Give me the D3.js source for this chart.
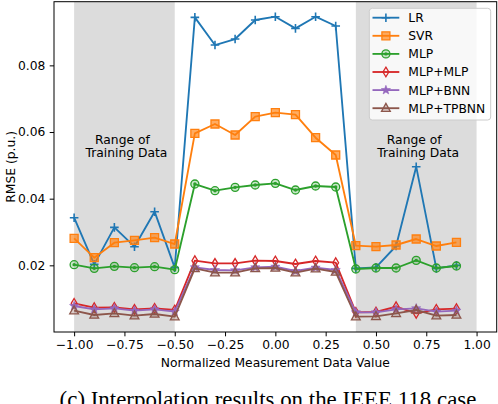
<!DOCTYPE html>
<html>
<head>
<meta charset="utf-8">
<script src="https://cdn.jsdelivr.net/npm/d3@7"></script>
<style>
  html, body { margin: 0; padding: 0; background: #fff; }
  svg { display: block; }
  text { font-family: "DejaVu Sans", sans-serif; }
  text.caption { font-family: "Liberation Serif", "DejaVu Serif", serif; }
</style>
</head>
<body>
<svg id="chart" width="498" height="404"></svg>
<script>
// ---------------- data ----------------
const xValues = [-1.0, -0.9, -0.8, -0.7, -0.6, -0.5, -0.4, -0.3, -0.2, -0.1, 0.0, 0.1, 0.2, 0.3, 0.4, 0.5, 0.6, 0.7, 0.8, 0.9];
const seriesNames = ["LR", "SVR", "MLP", "MLP+MLP", "MLP+BNN", "MLP+TPBNN"];
const lrValues     = [0.0343, 0.0203, 0.0314, 0.0256, 0.0361, 0.0193, 0.0944, 0.0861, 0.0879, 0.0936, 0.0946, 0.0911, 0.0946, 0.0918, 0.0191, 0.0194, 0.0258, 0.0496, 0.0191, 0.0200];
const svrValues    = [0.0281, 0.0223, 0.0268, 0.0275, 0.0283, 0.0264, 0.0596, 0.0624, 0.0591, 0.0646, 0.0658, 0.0652, 0.0583, 0.0531, 0.0259, 0.0256, 0.0261, 0.0279, 0.0258, 0.0269];
const mlpValues    = [0.0202, 0.0191, 0.0197, 0.0193, 0.0196, 0.0187, 0.0444, 0.0424, 0.0434, 0.0441, 0.0446, 0.0426, 0.0438, 0.0435, 0.0189, 0.0192, 0.0192, 0.0215, 0.0192, 0.0198];
const mlpMlpValues = [0.0086, 0.0073, 0.0074, 0.0068, 0.0071, 0.0066, 0.0214, 0.0206, 0.0206, 0.0214, 0.0213, 0.0204, 0.0213, 0.0208, 0.0059, 0.0060, 0.0076, 0.0056, 0.0068, 0.0070];
const mlpBnnValues = [0.0078, 0.0068, 0.0071, 0.0064, 0.0068, 0.0061, 0.0194, 0.0186, 0.0185, 0.0194, 0.0196, 0.0183, 0.0193, 0.0186, 0.0059, 0.0059, 0.0068, 0.0071, 0.0061, 0.0064];
const tpbnnValues  = [0.0064, 0.0051, 0.0056, 0.0049, 0.0054, 0.0046, 0.0191, 0.0178, 0.0178, 0.0191, 0.0192, 0.0178, 0.0190, 0.0180, 0.0046, 0.0047, 0.0056, 0.0066, 0.0049, 0.0051];
const trainingRanges = [[-1.0, -0.5], [0.4, 1.0]];
const rangeLabelX = [-0.74, 0.71];
const rangeLabelLines = ["Range of", "Training Data"];
const xTicks = [-1.0, -0.75, -0.5, -0.25, 0.0, 0.25, 0.5, 0.75, 1.0];
const yTicks = [0.02, 0.04, 0.06, 0.08];
const xLabel = "Normalized Measurement Data Value";
const yLabel = "RMSE (p.u.)";
const caption = "(c) Interpolation results on the IEEE 118 case";

// ---------------- styling ----------------
const colors = ["#1f77b4", "#ff7f0e", "#2ca02c", "#d62728", "#9467bd", "#8c564b"];
const markers = ["plus", "square", "circle", "diamond", "star", "triangle"];
const allValues = [lrValues, svrValues, mlpValues, mlpMlpValues, mlpBnnValues, tpbnnValues];

const svg = d3.select("#chart");
const L = 54, R = 496.7, T = 1.7, B = 332;
const x = d3.scaleLinear().domain([-1.1, 1.1]).range([L, R]);
const y = d3.scaleLinear().domain([0, 0.0991]).range([B, T]);

// shaded ranges
svg.append("g").selectAll("rect").data(trainingRanges).join("rect")
  .attr("x", d => x(d[0])).attr("width", d => x(d[1]) - x(d[0]))
  .attr("y", T).attr("height", B - T)
  .attr("fill", "#dcdcdc");

// range labels
rangeLabelX.forEach(rx => {
  const t = svg.append("text").attr("text-anchor", "middle")
    .attr("font-size", 12.3).attr("fill", "#000");
  t.append("tspan").attr("x", x(rx) - 4).attr("y", 143.8).text(rangeLabelLines[0]);
  t.append("tspan").attr("x", x(rx)).attr("y", 157.3).text(rangeLabelLines[1]);
});

// marker paths
function markerPath(type) {
  switch (type) {
    case "plus": return "M-4.3,0H4.3M0,-4.3V4.3";
    case "square": return "M-4,-4H4V4H-4Z";
    case "circle": return d3.symbol(d3.symbolCircle, Math.PI * 4 * 4)();
    case "diamond": return "M0,-4.8L2.9,0L0,4.8L-2.9,0Z";
    case "star": {
      const pts = [];
      for (let i = 0; i < 10; i++) {
        const r = i % 2 === 0 ? 4.8 : 2.0;
        const a = -Math.PI / 2 + i * Math.PI / 5;
        pts.push([r * Math.cos(a), r * Math.sin(a)]);
      }
      return "M" + pts.map(p => p[0].toFixed(2) + "," + p[1].toFixed(2)).join("L") + "Z";
    }
    case "triangle": return "M0,-4.8L4.4,3.2L-4.4,3.2Z";
  }
}
function drawMarker(g, type, color) {
  const p = g.append("path").attr("d", markerPath(type)).attr("stroke", color);
  if (type === "plus") p.attr("fill", "none").attr("stroke-width", 1.6);
  else if (type === "square") p.attr("fill", color).attr("fill-opacity", 0.65).attr("stroke-width", 1.3);
  else if (type === "circle") {
    p.attr("fill", color).attr("fill-opacity", 0.25).attr("stroke-width", 1.3);
    g.append("circle").attr("r", 1.7).attr("fill", color);
  }
  else if (type === "diamond") p.attr("fill", "none").attr("stroke-width", 1.3);
  else if (type === "star") p.attr("fill", color).attr("stroke-width", 0.6);
  else if (type === "triangle") p.attr("fill", color).attr("fill-opacity", 0.3).attr("stroke-width", 1.3);
}

// series
const line = d3.line().x(d => x(d[0])).y(d => y(d[1]));
allValues.forEach((vals, i) => {
  const pts = xValues.map((xv, j) => [xv, vals[j]]);
  const g = svg.append("g");
  g.append("path").attr("d", line(pts)).attr("fill", "none")
    .attr("stroke", colors[i]).attr("stroke-width", 1.85).attr("stroke-linejoin", "round");
  pts.forEach(p => {
    const mg = g.append("g").attr("transform", `translate(${x(p[0])},${y(p[1])})`);
    drawMarker(mg, markers[i], colors[i]);
  });
});

// axes
const xAxis = d3.axisBottom(x).tickValues(xTicks).tickFormat(d3.format(".2f")).tickSizeOuter(0).tickSize(4.3).tickPadding(4.3);
const yAxis = d3.axisLeft(y).tickValues(yTicks).tickFormat(d3.format(".2f")).tickSizeOuter(0).tickSize(4.3).tickPadding(4.3);
const gx = svg.append("g").attr("transform", `translate(0,${B})`).call(xAxis);
const gy = svg.append("g").attr("transform", `translate(${L},0)`).call(yAxis);
[gx, gy].forEach(g => {
  g.select(".domain").remove();
  g.selectAll("text").attr("font-size", 12.3).attr("font-family", "DejaVu Sans").attr("fill", "#000");
  g.selectAll("line").attr("stroke", "#000").attr("stroke-width", 1);
});

// frame
svg.append("rect").attr("x", L).attr("y", T).attr("width", R - L).attr("height", B - T)
  .attr("fill", "none").attr("stroke", "#000").attr("stroke-width", 1);

// axis labels
svg.append("text").attr("x", (L + R) / 2).attr("y", 367).attr("text-anchor", "middle")
  .attr("font-size", 12.3).text(xLabel);
svg.append("text").attr("transform", `translate(15,${(T + B) / 2}) rotate(-90)`)
  .attr("text-anchor", "middle").attr("font-size", 12.3).text(yLabel);

// legend
const lg = svg.append("g");
lg.append("rect").attr("x", 369.3).attr("y", 8.3).attr("width", 121.4).attr("height", 111.7)
  .attr("rx", 3).attr("fill", "#fff").attr("fill-opacity", 0.8).attr("stroke", "#cccccc").attr("stroke-width", 1);
seriesNames.forEach((name, i) => {
  const yy = 17.7 + i * 18.1;
  const eg = lg.append("g");
  eg.append("line").attr("x1", 372.5).attr("x2", 399.3).attr("y1", yy).attr("y2", yy)
    .attr("stroke", colors[i]).attr("stroke-width", 1.85);
  const mg = eg.append("g").attr("transform", `translate(385.9,${yy})`);
  drawMarker(mg, markers[i], colors[i]);
  eg.append("text").attr("x", 408.3).attr("y", yy + 4.4).attr("font-size", 12.3).text(name);
});

// caption (cut off at the bottom edge, as in the reference)
svg.append("text").attr("class", "caption").attr("x", 268).attr("y", 407).attr("text-anchor", "middle")
  .attr("font-size", 22.9).text(caption);
</script>
</body>
</html>
